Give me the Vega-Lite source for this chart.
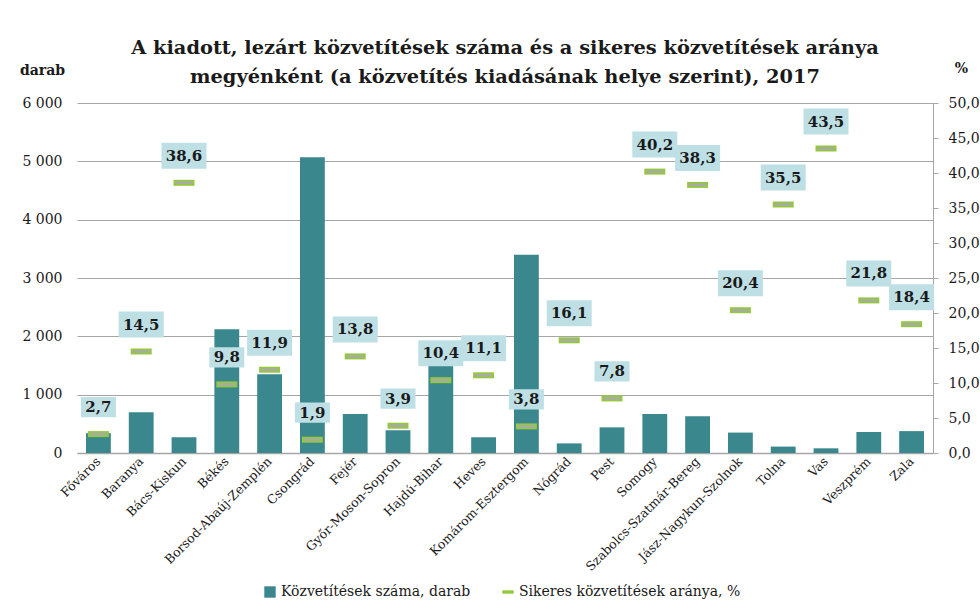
{
  "$schema": "https://vega.github.io/schema/vega-lite/v6.json",
  "width": 856,
  "height": 350,
  "autosize": {"type": "none"},
  "padding": {"left": 77, "top": 103, "right": 47, "bottom": 159},
  "background": "white",
  "config": {
    "locale": {"number": {"decimal": ",", "thousands": " ", "grouping": [3], "currency": ["", ""]}},
    "font": "DejaVu Serif",
    "view": {"stroke": null},
    "axis": {"labelFont": "DejaVu Serif", "titleFont": "DejaVu Serif", "labelColor": "#1a1a1a", "titleColor": "#1a1a1a"}
  },
  "title": {
    "text": ["A kiadott, lezárt közvetítések száma és a sikeres közvetítések aránya", "megyénként (a közvetítés kiadásának helye szerint), 2017"],
    "font": "DejaVu Serif",
    "fontSize": 19.4,
    "fontWeight": "bold",
    "color": "#1a1a1a",
    "lineHeight": 29,
    "anchor": "middle",
    "offset": 12,
    "dy": 38
  },
  "data": {
    "values": [
      {"megye": "Főváros", "db": 340, "rate": 2.7},
      {"megye": "Baranya", "db": 700, "rate": 14.5},
      {"megye": "Bács-Kiskun", "db": 270, "rate": 38.6},
      {"megye": "Békés", "db": 2120, "rate": 9.8},
      {"megye": "Borsod-Abaúj-Zemplén", "db": 1350, "rate": 11.9},
      {"megye": "Csongrád", "db": 5070, "rate": 1.9},
      {"megye": "Fejér", "db": 670, "rate": 13.8},
      {"megye": "Győr-Moson-Sopron", "db": 390, "rate": 3.9},
      {"megye": "Hajdú-Bihar", "db": 1500, "rate": 10.4},
      {"megye": "Heves", "db": 270, "rate": 11.1},
      {"megye": "Komárom-Esztergom", "db": 3400, "rate": 3.8},
      {"megye": "Nógrád", "db": 165, "rate": 16.1},
      {"megye": "Pest", "db": 440, "rate": 7.8},
      {"megye": "Somogy", "db": 670, "rate": 40.2},
      {"megye": "Szabolcs-Szatmár-Bereg", "db": 630, "rate": 38.3},
      {"megye": "Jász-Nagykun-Szolnok", "db": 350, "rate": 20.4},
      {"megye": "Tolna", "db": 110, "rate": 35.5},
      {"megye": "Vas", "db": 80, "rate": 43.5},
      {"megye": "Veszprém", "db": 360, "rate": 21.8},
      {"megye": "Zala", "db": 375, "rate": 18.4}
    ]
  },
  "encoding": {
    "x": {
      "field": "megye",
      "type": "nominal",
      "sort": null,
      "scale": {"paddingInner": 0.42, "paddingOuter": 0.21},
      "axis": {
        "title": null,
        "labelAngle": -45,
        "labelAlign": "right",
        "labelBaseline": "middle",
        "labelFontSize": 12.5,
        "labelPadding": 6,
        "ticks": false,
        "domainColor": "#A6A6A6",
        "domainWidth": 1.5
      }
    }
  },
  "layer": [
    {
      "mark": {"type": "bar"},
      "encoding": {
        "y": {
          "field": "db",
          "type": "quantitative",
          "scale": {"domain": [0, 6000]},
          "axis": {
            "orient": "left",
            "values": [0, 1000, 2000, 3000, 4000, 5000, 6000],
            "format": ",d",
            "title": "darab",
            "titleAngle": 0,
            "titleX": -35,
            "titleY": -33,
            "titleAlign": "center",
            "titleBaseline": "middle",
            "titleFontSize": 14,
            "titleFontWeight": "bold",
            "labelFontSize": 14,
            "labelPadding": 15,
            "ticks": false,
            "domain": false,
            "gridColor": "#A6A6A6",
            "gridWidth": 1
          }
        },
        "color": {
          "datum": "Közvetítések száma, darab",
          "type": "nominal",
          "scale": {
            "domain": ["Közvetítések száma, darab", "Sikeres közvetítések aránya, %"],
            "range": ["#3A878E", "#94C83D"]
          },
          "legend": {
            "title": null,
            "orient": "none",
            "legendX": 186,
            "legendY": 482,
            "direction": "horizontal",
            "labelFont": "DejaVu Serif",
            "labelFontSize": 14,
            "labelColor": "#1a1a1a",
            "labelLimit": 0,
            "symbolSize": 130,
            "columnPadding": 30,
            "labelOffset": 4,
            "encode": {
              "symbols": {
                "update": {
                  "shape": {"signal": "datum.value === 'Közvetítések száma, darab' ? 'square' : 'M-1,-0.3L1,-0.3L1,0.3L-1,0.3Z'"},
                  "strokeWidth": {"value": 0}
                }
              }
            }
          }
        }
      }
    },
    {
      "encoding": {
        "y": {
          "field": "rate",
          "type": "quantitative",
          "scale": {"domain": [0, 50]},
          "axis": {
            "orient": "right",
            "values": [0, 5, 10, 15, 20, 25, 30, 35, 40, 45, 50],
            "format": ".1f",
            "title": "%",
            "titleAngle": 0,
            "titleX": 28,
            "titleY": -35,
            "titleAlign": "center",
            "titleBaseline": "middle",
            "titleFontSize": 14,
            "titleFontWeight": "bold",
            "labelFontSize": 14,
            "labelPadding": 10,
            "tickSize": 5,
            "tickColor": "#A6A6A6",
            "domainColor": "#A6A6A6",
            "grid": false
          }
        }
      },
      "layer": [
        {
          "mark": {"type": "tick", "size": 21, "thickness": 6, "opacity": 1},
          "encoding": {
            "color": {"datum": "Sikeres közvetítések aránya, %", "type": "nominal"}
          }
        },
        {
          "mark": {"type": "tick", "size": 17, "thickness": 2.5, "color": "#A9A9A9", "opacity": 1}
        },
        {
          "mark": {
            "type": "point",
            "filled": true,
            "opacity": 1,
            "color": "#BEE0E5",
            "shape": "M-1,-0.578L1,-0.578L1,0.578L-1,0.578Z",
            "yOffset": -27
          },
          "encoding": {
            "size": {
              "condition": {"test": "datum.rate < 10", "value": 1225},
              "value": 2025
            }
          }
        },
        {
          "mark": {
            "type": "text",
            "font": "DejaVu Serif",
            "fontSize": 15,
            "fontWeight": "bold",
            "color": "#1a1a1a",
            "baseline": "middle",
            "yOffset": -27
          },
          "encoding": {
            "text": {"field": "rate", "type": "quantitative", "format": ".1f"}
          }
        }
      ]
    }
  ],
  "resolve": {"scale": {"y": "independent"}}
}
